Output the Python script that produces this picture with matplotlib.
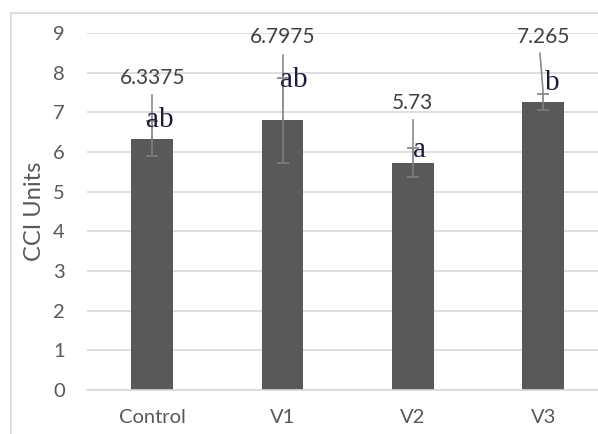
import numpy as np
import matplotlib.pyplot as plt
from matplotlib.lines import Line2D

categories = ["Control", "V1", "V2", "V3"]
means = [6.3375, 6.7975, 5.73, 7.265]
errors = [0.45, 1.07, 0.36, 0.2]
letters = ["ab", "ab", "a", "b"]
value_labels = ["6.3375", "6.7975", "5.73", "7.265"]
label_y = [7.87, 8.9, 7.23, 8.9]       # value label centres (data units)
leader_top = [7.44, 8.44, 6.8, 8.49]   # leader line start under each label
letter_y = [6.8, 7.81, 6.05, 7.74]     # letter annotation centres
letter_dx = [0.06, 0.09, 0.05, 0.015]

W, H = 598, 434
fig = plt.figure(figsize=(W / 100, H / 100), dpi=100)
ax = fig.add_axes([87 / W, (H - 390) / H, (598 - 87) / W, (390 - 33) / H])

# chart area border (left and top edges visible)
bx, by = 11 / W, (H - 13) / H
fig.add_artist(Line2D([bx, bx], [0, by], transform=fig.transFigure,
                      color="#d9d9d9", lw=1.2))
fig.add_artist(Line2D([bx, 1], [by, by], transform=fig.transFigure,
                      color="#d9d9d9", lw=1.2))

x = np.arange(len(categories))
ax.bar(x, means, width=0.32, color="#595959", zorder=2)
ax.errorbar(x, means, yerr=errors, fmt="none", ecolor="#7f7f7f",
            elinewidth=1.2, capsize=4, capthick=1.2, zorder=3)

for i in range(len(x)):
    ax.text(x[i], label_y[i], value_labels[i], ha="center", va="center",
            fontsize=15, color="#404040", family="Lato", zorder=4)
    x0 = x[i] - (0.025 if i == 3 else 0)
    ax.plot([x0, x[i]], [leader_top[i], means[i] + errors[i]],
            color="#8c8c8c", lw=1.2, zorder=3, clip_on=False)
    ax.text(x[i] + letter_dx[i], letter_y[i], letters[i],
            ha="left" if i == 3 else "center", va="center", fontsize=21,
            color="#1c1c3c", family="Liberation Serif", zorder=5)

ax.set_xlim(-0.5, 3.42)
ax.set_ylim(0, 9)
ax.set_yticks(range(10))
ax.set_xticks(x)
ax.set_xticklabels(categories)
ax.yaxis.grid(True, color="#d9d9d9", lw=1.2, zorder=0)
ax.set_axisbelow(True)
for s in ["top", "right", "left"]:
    ax.spines[s].set_visible(False)
ax.spines["bottom"].set_color("#d9d9d9")
ax.spines["bottom"].set_linewidth(1.2)
ax.tick_params(length=0, labelsize=14.5, labelcolor="#595959")
ax.tick_params(axis="y", pad=16)
ax.tick_params(axis="x", pad=14)
for t in ax.get_xticklabels() + ax.get_yticklabels():
    t.set_family("Lato")
ax.set_ylabel("CCI Units", fontsize=17, color="#595959", family="Lato", labelpad=6)

fig.savefig("out.png", dpi=100)
